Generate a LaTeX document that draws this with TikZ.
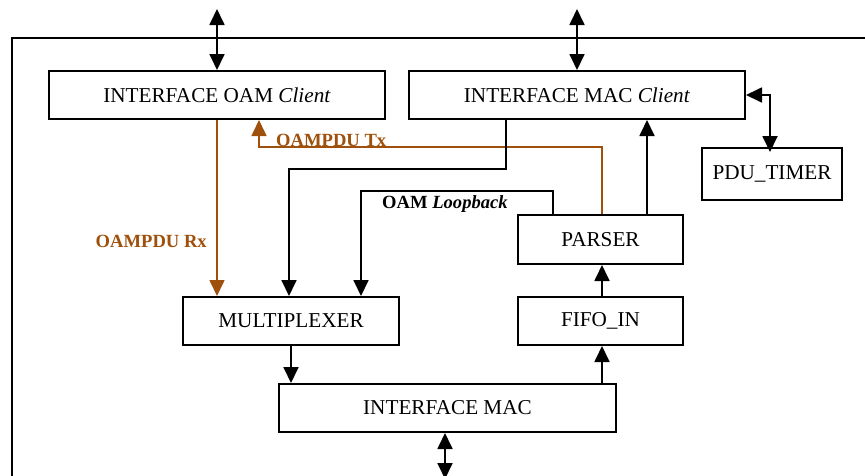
\documentclass[tikz,border=0pt]{standalone}
\usepackage{fontspec}
\setmainfont{Liberation Serif}
\usetikzlibrary{arrows.meta}
\definecolor{oamorange}{RGB}{158,80,12}
\tikzset{
  box/.style={draw=black, line width=2pt, rectangle, inner sep=0pt, fill=white,
    font=\fontsize{21.2}{25}\selectfont},
  tip/.style={Triangle[length=16pt,width=15pt]},
  conn/.style={draw=black, line width=1.8pt, -{Triangle[length=16pt,width=15pt]}},
  biconn/.style={draw=black, line width=1.8pt, {Triangle[length=16pt,width=15pt]}-{Triangle[length=16pt,width=15pt]}},
  oconn/.style={draw=oamorange, line width=1.6pt, -{Triangle[length=16pt,width=15pt]}},
  lbl/.style={inner sep=0pt, font=\fontsize{18.6}{22}\selectfont\bfseries},
  frame/.style={draw=black, line width=2.4pt}
}
\begin{document}
\begin{tikzpicture}[x=1pt, y=-1pt]
\useasboundingbox (0,0) rectangle (865,475);
% outer frame
\draw[frame] (11.7,480) -- (11.7,37.7) -- (870,37.7);
% boxes
\node[box, minimum width=336pt, minimum height=48pt] (oam) at (217,95) {INTERFACE OAM \textit{Client}};
\node[box, minimum width=336pt, minimum height=48pt] (macc) at (577,95) {INTERFACE MAC \textit{Client}};
\node[box, minimum width=140pt, minimum height=52pt] (pdu) at (772,174) {PDU\_TIMER};
\node[box, minimum width=165pt, minimum height=49pt] (parser) at (600.5,239.5) {PARSER};
\node[box, minimum width=165pt, minimum height=48pt] (fifo) at (600.5,321) {FIFO\_IN};
\node[box, minimum width=216pt, minimum height=48pt] (mux) at (291,321) {MULTIPLEXER};
\node[box, minimum width=337pt, minimum height=48pt] (imac) at (447.5,408) {INTERFACE MAC};
% free ends
\coordinate (topoam) at (217,9);
\coordinate (topmac) at (577,9);
\coordinate (botmac) at (445,479);
% external double arrows
\draw[biconn] (topoam) -- (oam.north);
\draw[biconn] (topmac) -- (macc.north);
\draw[biconn] (imac.south -| botmac) -- (botmac);
\draw[biconn] (macc.east) -| ([xshift=-2pt,yshift=-5pt]pdu.north);
% orange Rx
\draw[oconn] (oam.south) -- (oam.south |- mux.north);
% orange Tx
\draw[oconn] ([xshift=1.5pt]parser.north) -- ++(0,-67) -| ([xshift=42pt]oam.south);
% MAC client -> multiplexer
\draw[conn] ([xshift=-71pt]macc.south) -- ++(0,49) -| ([xshift=-2pt]mux.north);
% loopback
\draw[conn] ([xshift=-47.5pt]parser.north) -- ++(0,-23) -| ([xshift=70pt]mux.north);
% parser -> MAC client
\draw[conn] ([xshift=46.5pt]parser.north) -- ([xshift=46.5pt]parser.north |- macc.south);
% fifo -> parser
\draw[conn] ([xshift=1.5pt]fifo.north) -- ([xshift=1.5pt]parser.south);
% interface mac -> fifo
\draw[conn] ([xshift=1.5pt]fifo.south |- imac.north) -- ([xshift=1.5pt]fifo.south);
% mux -> interface mac
\draw[conn] (mux.south) -- (mux.south |- imac.north);
% labels
\node[lbl, text=oamorange, anchor=west] (ltx) at (276,140) {OAMPDU Tx};
\node[lbl, text=oamorange, anchor=east] (lrx) at (207,241) {OAMPDU Rx};
\node[lbl, text=black, anchor=west] (llb) at (382,204) {OAM \textit{Loopback}};
\end{tikzpicture}
\end{document}
